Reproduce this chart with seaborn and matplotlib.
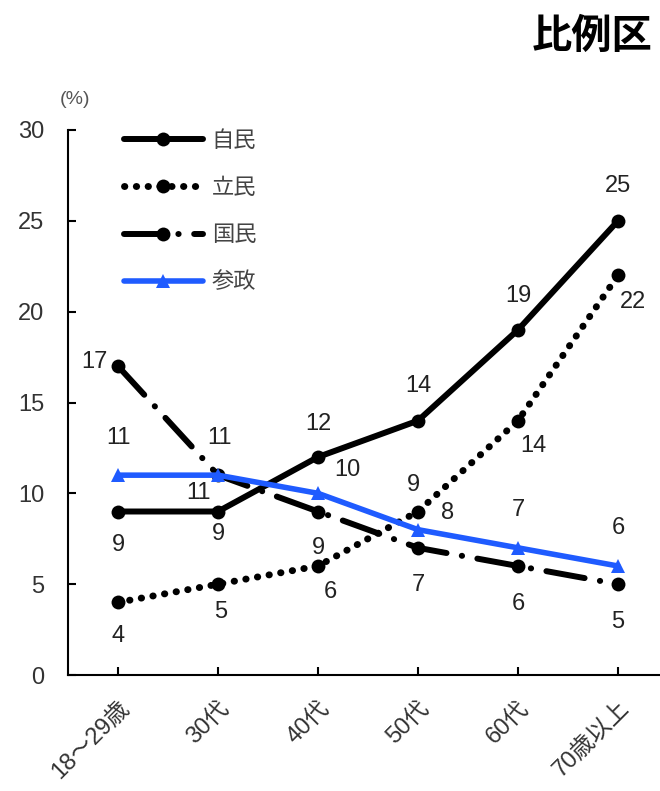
import numpy as np
import pandas as pd
import matplotlib
matplotlib.use("Agg")
import matplotlib.pyplot as plt
import seaborn as sns

# Data
ages = ["18〜29歳", "30代", "40代", "50代", "60代", "70歳以上"]
jimin = [9, 9, 12, 14, 19, 25]
rikken = [4, 5, 6, 9, 14, 22]
kokumin = [17, 11, 9, 7, 6, 5]
sansei = [11, 11, 10, 8, 7, 6]

sns.set_theme(style="white")
plt.rcParams["font.family"] = ["Liberation Sans", "Noto Sans CJK JP", "DejaVu Sans"]

fig = plt.figure(figsize=(6.6, 7.91), dpi=100)
ax = fig.add_axes([68 / 660, 1 - 675 / 791, 600 / 660, 545 / 791])

blue = "#1f5bff"
series = [
    ("自民", jimin, dict(color="black", lw=4.3, linestyle="-", marker="o", markersize=10)),
    ("立民", rikken, dict(color="black", lw=5.0, linestyle=(0, (0.05, 1.65)), marker="o",
                         markersize=10, dash_capstyle="round")),
    ("国民", kokumin, dict(color="black", lw=4.3, linestyle=(0, (6.5, 2.6, 0.05, 2.6)), marker="o",
                          markersize=10, dash_capstyle="round")),
    ("参政", sansei, dict(color=blue, lw=4.0, linestyle="-", marker="^", markersize=10)),
]

for name, vals, kw in series:
    df = pd.DataFrame({"age": ages, "val": vals})
    sns.lineplot(data=df, x="age", y="val", ax=ax, label=name, markeredgewidth=0, **kw)

# label offsets in points (dx, dy)
offsets = {
    "自民": [(0, -24), (0, -16), (0, 24), (0, 25), (0, 24), (0, 25)],
    "立民": [(0, -24), (2, -20), (9, -19), (-3, 19), (11, -18), (11, -19)],
    "国民": [(-17, 3), (-14, -13), (0, -26), (0, -27), (0, -27), (0, -27)],
    "参政": [(0, 27), (1, 27), (21, 17), (21, 12), (0, 27), (0, 27)],
}
for name, vals, kw in series:
    for i, v in enumerate(vals):
        ax.annotate(str(v), (i, v), xytext=offsets[name][i], textcoords="offset points",
                    ha="center", va="center", fontsize=17, color="#222222")

ax.set_xlim(-0.5, 5.5)
ax.set_ylim(0, 30)
ax.set_yticks([0, 5, 10, 15, 20, 25, 30])
ax.set_xlabel("")
ax.set_ylabel("")
for s in ["top", "right"]:
    ax.spines[s].set_visible(False)
for s in ["left", "bottom"]:
    ax.spines[s].set_color("black")
    ax.spines[s].set_linewidth(1.5)
ax.tick_params(axis="y", direction="in", length=6, width=1.5, color="black",
               pad=17, labelsize=17, labelcolor="#333333", left=True)
ax.tick_params(axis="x", direction="in", length=6, width=1.5, color="black",
               pad=16, labelsize=17, labelcolor="#333333", bottom=True)
plt.setp(ax.get_xticklabels(), rotation=45, ha="right", rotation_mode="anchor")

leg = ax.legend(loc="upper left", bbox_to_anchor=(0.06, 1.035), frameon=False, fontsize=16,
                handlelength=3.55, labelspacing=1.18, handletextpad=0.4, numpoints=1,
                labelcolor="#444444")

fig.text(75 / 660, 1 - 100 / 791, "(%)", fontsize=14, color="#555555", ha="center", va="center")
fig.text(652 / 660, 1 - 37 / 791, "比例区", fontsize=29, fontweight="bold", ha="right", va="center",
         color="black")

fig.savefig("out.png", dpi=100)
